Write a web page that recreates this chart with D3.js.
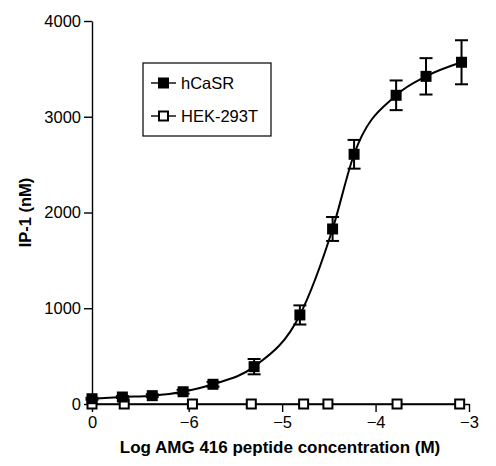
<!DOCTYPE html>
<html>
<head>
<meta charset="utf-8">
<script src="https://cdn.jsdelivr.net/npm/d3@7"></script>
<style>
  body { margin: 0; background: #fff; }
  text { font-family: "Liberation Sans", Arial, sans-serif; }
</style>
</head>
<body>
<svg id="chart" width="496" height="466"></svg>
<script>
// position used on the log axis for the zero-concentration point
const ZERO = -7.035;

const hcasrLogConc = [ZERO, -6.71, -6.39, -6.06, -5.74, -5.30, -4.81, -4.46, -4.23, -3.78, -3.46, -3.08];
const hcasrMean = [55, 73, 87, 128, 206, 390, 930, 1828, 2608, 3224, 3422, 3569];
const hcasrSem = [10, 10, 15, 20, 25, 80, 100, 125, 150, 155, 190, 230];

const hekLogConc = [ZERO, -6.69, -5.96, -5.33, -4.77, -4.51, -3.77, -3.10];
const hekMean = [0, 0, 0, 0, 0, 0, 0, 0];

const yTicks = [0, 1000, 2000, 3000, 4000];
const xTickValues = [ZERO, -6, -5, -4, -3];
const xTickLabels = ["0", "\u22126", "\u22125", "\u22124", "\u22123"];

const seriesNames = ["hCaSR", "HEK-293T"];

const width = 496;
const height = 466;
const margin = { top: 21, right: 27, bottom: 62, left: 92 };
const plotWidth = width - margin.left - margin.right;
const plotHeight = height - margin.top - margin.bottom;

const svg = d3.select("#chart");

const x = d3.scaleLinear([ZERO, -3], [0, plotWidth]);
const y = d3.scaleLinear([0, 4000], [plotHeight, 0]);

const plotArea = svg
  .append("g")
  .attr("transform", `translate(${margin.left}, ${margin.top})`);

// axes
const yAxis = d3
  .axisLeft(y)
  .tickValues(yTicks)
  .tickFormat(d3.format("d"))
  .tickSize(8)
  .tickPadding(3)
  .tickSizeOuter(0);
const xAxis = d3
  .axisBottom(x)
  .tickValues(xTickValues)
  .tickFormat((d, i) => xTickLabels[i])
  .tickSize(8)
  .tickPadding(4)
  .tickSizeOuter(0);

const gy = plotArea.append("g").call(yAxis);
const gx = plotArea.append("g").attr("transform", `translate(0, ${plotHeight})`).call(xAxis);

[gx, gy].forEach((g) => {
  g.selectAll("path, line").attr("stroke", "#000").attr("stroke-width", 1.4);
  g.selectAll("text").attr("font-size", 16.5).attr("fill", "#000");
});

// axis titles
svg
  .append("text")
  .attr("x", 280)
  .attr("y", 453)
  .attr("text-anchor", "middle")
  .attr("font-size", 17)
  .attr("font-weight", "bold")
  .text("Log AMG 416 peptide concentration (M)");

svg
  .append("text")
  .attr("transform", `translate(31, ${margin.top + plotHeight / 2}) rotate(-90)`)
  .attr("text-anchor", "middle")
  .attr("font-size", 16.5)
  .attr("font-weight", "bold")
  .text("IP-1 (nM)");

// HEK-293T connecting line and open squares
const hek = hekLogConc.map((c, i) => ({ c, v: hekMean[i] }));
plotArea
  .append("path")
  .datum(hek)
  .attr("fill", "none")
  .attr("stroke", "#000")
  .attr("stroke-width", 1.4)
  .attr("d", d3.line().x((d) => x(d.c)).y((d) => y(d.v)));

plotArea
  .append("g")
  .selectAll("rect")
  .data(hek)
  .join("rect")
  .attr("x", (d) => x(d.c) - 4.5)
  .attr("y", (d) => y(d.v) - 4.5)
  .attr("width", 9)
  .attr("height", 9)
  .attr("fill", "#fff")
  .attr("stroke", "#000")
  .attr("stroke-width", 2);

// hCaSR curve, error bars and filled squares
const hcasr = hcasrLogConc.map((c, i) => ({ c, v: hcasrMean[i], e: hcasrSem[i] }));

plotArea
  .append("path")
  .datum(hcasr)
  .attr("fill", "none")
  .attr("stroke", "#000")
  .attr("stroke-width", 2)
  .attr("d", d3.line().x((d) => x(d.c)).y((d) => y(d.v)).curve(d3.curveMonotoneX));

const bars = plotArea.append("g").selectAll("g").data(hcasr).join("g");
bars
  .append("line")
  .attr("x1", (d) => x(d.c))
  .attr("x2", (d) => x(d.c))
  .attr("y1", (d) => y(d.v + d.e))
  .attr("y2", (d) => y(d.v - d.e))
  .attr("stroke", "#000")
  .attr("stroke-width", 2);
[1, -1].forEach((s) => {
  bars
    .append("line")
    .attr("x1", (d) => x(d.c) - 6.5)
    .attr("x2", (d) => x(d.c) + 6.5)
    .attr("y1", (d) => y(d.v + s * d.e))
    .attr("y2", (d) => y(d.v + s * d.e))
    .attr("stroke", "#000")
    .attr("stroke-width", 2);
});

plotArea
  .append("g")
  .selectAll("rect")
  .data(hcasr)
  .join("rect")
  .attr("x", (d) => x(d.c) - 5.5)
  .attr("y", (d) => y(d.v) - 5.5)
  .attr("width", 11)
  .attr("height", 11)
  .attr("fill", "#000");

// legend
const legend = svg.append("g").attr("transform", "translate(143, 63)");
legend
  .append("rect")
  .attr("width", 128)
  .attr("height", 73)
  .attr("fill", "#fff")
  .attr("stroke", "#000")
  .attr("stroke-width", 1.2);

const entries = legend
  .selectAll("g")
  .data(seriesNames)
  .join("g")
  .attr("transform", (d, i) => `translate(0, ${20 + i * 33})`);

entries
  .append("line")
  .attr("x1", 8)
  .attr("x2", 33)
  .attr("stroke", "#000")
  .attr("stroke-width", 1.4);

entries
  .append("rect")
  .attr("x", (d, i) => (i === 0 ? 15 : 16))
  .attr("y", (d, i) => (i === 0 ? -5.5 : -4.5))
  .attr("width", (d, i) => (i === 0 ? 11 : 9))
  .attr("height", (d, i) => (i === 0 ? 11 : 9))
  .attr("fill", (d, i) => (i === 0 ? "#000" : "#fff"))
  .attr("stroke", "#000")
  .attr("stroke-width", (d, i) => (i === 0 ? 0 : 2));

entries
  .append("text")
  .attr("x", 38)
  .attr("y", 6)
  .attr("font-size", 16.5)
  .text((d) => d);
</script>
</body>
</html>
